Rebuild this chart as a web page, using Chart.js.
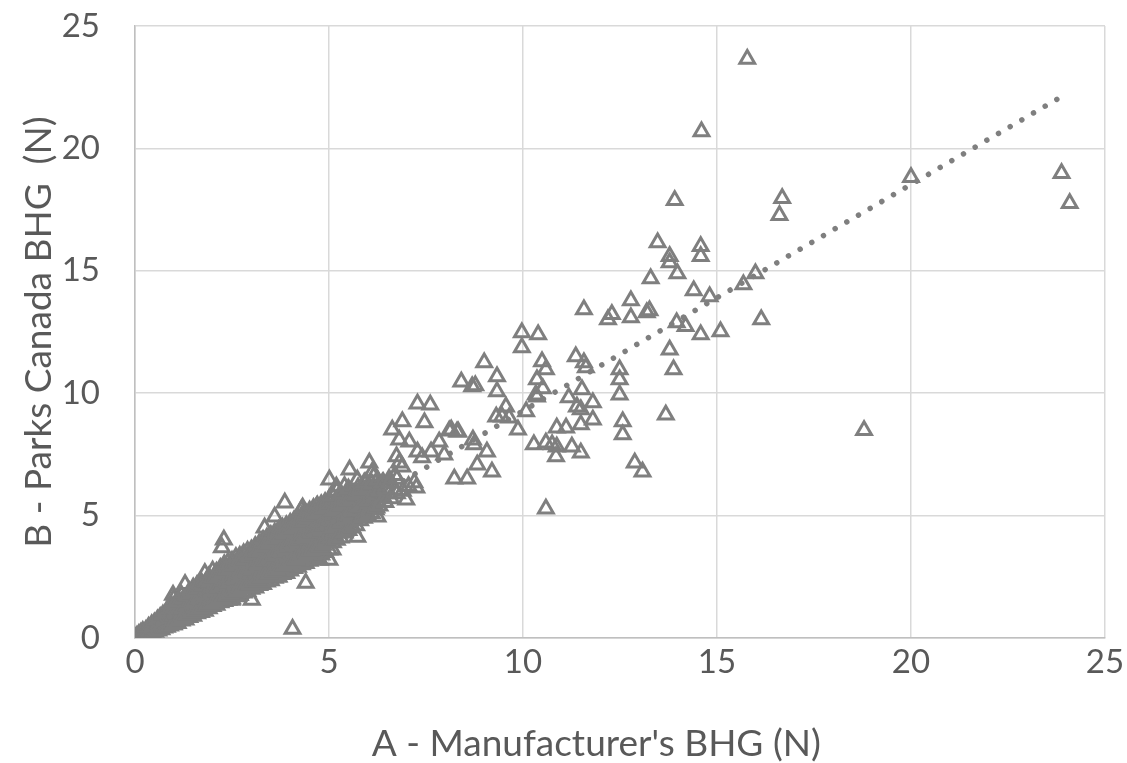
<!DOCTYPE html>
<html>
<head>
<meta charset="utf-8">
<script src="https://cdn.jsdelivr.net/npm/chart.js@4.4.1/dist/chart.umd.min.js"></script>
<style>
  html, body { margin: 0; padding: 0; background: #ffffff; }
  #bhgChart { display: block; }
</style>
</head>
<body>
<canvas id="bhgChart" width="1127" height="763"></canvas>
<script>
// [A - manufacturer, B - Parks Canada] pairs, in newtons
const nearOrigin = [
  [0.02,0.01],[0.05,0.08],[0.08,0.02],[0.1,0.15],[0.12,0.06],[0.15,0.2],[0.18,0.1],[0.2,0.28],
  [0.22,0.05],[0.25,0.18],[0.28,0.32],[0.3,0.12],[0.33,0.25],[0.35,0.45],[0.38,0.15],[0.4,0.3],
  [0.43,0.55],[0.45,0.2],[0.48,0.38],[0.5,0.62],[0.52,0.25],[0.55,0.45],[0.58,0.75],[0.6,0.3],
  [0.62,0.52],[0.65,0.85],[0.68,0.35],[0.7,0.6],[0.72,0.95],[0.75,0.42],[0.78,0.68],[0.8,1.05],
  [0.82,0.45],[0.85,0.78],[0.88,1.2],[0.9,0.5],[0.93,0.85],[0.95,1.3],[0.98,0.55],[0.98,1.76]
];

const lowBand = [
  [1.0,0.55],[1.0,0.9],[1.0,1.25],[1.0,1.6],
  [1.1,0.6],[1.1,1.0],[1.1,1.35],[1.1,1.55],
  [1.2,0.7],[1.2,1.05],[1.2,1.4],[1.2,1.75],
  [1.3,0.75],[1.3,1.15],[1.3,1.5],[1.29,2.2],
  [1.4,0.85],[1.4,1.2],[1.4,1.6],[1.4,1.9],
  [1.5,0.9],[1.5,1.3],[1.5,1.7],[1.5,2.05],
  [1.6,1.0],[1.6,1.4],[1.6,1.8],[1.6,2.15],
  [1.7,1.05],[1.7,1.5],[1.7,1.9],[1.7,2.3],
  [1.8,1.1],[1.8,1.55],[1.8,2.0],[1.8,2.65],
  [1.9,1.2],[1.9,1.65],[1.9,2.1],[1.9,2.5],
  [2.0,1.3],[2.0,1.75],[2.0,2.2],[2.0,2.75],
  [2.1,1.35],[2.1,1.8],[2.1,2.3],[2.1,2.7],
  [2.2,1.45],[2.2,1.9],[2.2,2.4],[2.2,2.85],
  [2.3,1.5],[2.3,2.0],[2.3,2.5],[2.3,3.0],[2.29,4.01],[2.24,3.7],
  [2.4,1.55],[2.4,2.05],[2.4,2.6],[2.4,3.1],
  [2.5,1.6],[2.5,2.15],[2.5,2.7],[2.5,3.15],[2.49,1.55],
  [2.6,1.7],[2.6,2.25],[2.6,2.8],[2.6,3.3],
  [2.7,1.75],[2.7,2.3],[2.7,2.85],[2.7,3.35],
  [2.8,1.85],[2.8,2.4],[2.8,2.95],[2.8,3.45],
  [2.9,1.9],[2.9,2.5],[2.9,3.05],[2.9,3.55],
  [3.0,2.0],[3.0,2.6],[3.0,3.15],[3.0,3.6],[3.01,1.55],
  [3.1,2.05],[3.1,2.7],[3.1,3.25],[3.1,3.75],
  [3.2,2.15],[3.2,2.8],[3.2,3.35],[3.2,3.85],
  [3.3,2.2],[3.3,2.85],[3.3,3.45],[3.3,4.0],[3.34,4.5],
  [3.4,2.3],[3.4,2.95],[3.4,3.55],[3.4,4.1],
  [3.5,2.35],[3.5,3.05],[3.5,3.65],[3.5,4.2],
  [3.6,2.45],[3.6,3.1],[3.6,3.75],[3.6,4.3],[3.6,4.95],[3.68,2.5],
  [3.7,2.5],[3.7,3.2],[3.7,3.85],[3.7,4.4],
  [3.8,2.6],[3.8,3.3],[3.8,3.95],[3.8,4.5],[3.86,5.52],
  [3.9,2.65],[3.9,3.4],[3.9,4.05],[3.9,4.6],
  [4.0,2.75],[4.0,3.5],[4.0,4.15],[4.0,4.7],[4.06,0.37],
  [4.1,2.85],[4.1,3.55],[4.1,4.25],[4.1,4.8],
  [4.2,2.9],[4.2,3.65],[4.2,4.35],[4.2,4.9],
  [4.3,3.0],[4.3,3.75],[4.3,4.45],[4.3,5.0],[4.29,5.24],[4.32,5.32],
  [4.4,3.05],[4.4,3.85],[4.4,4.55],[4.4,5.1],[4.4,2.25],
  [4.5,3.15],[4.5,3.9],[4.5,4.65],[4.5,5.2],
  [4.6,3.25],[4.6,4.0],[4.6,4.75],[4.6,5.3],[4.58,3.89],
  [4.7,3.3],[4.7,4.1],[4.7,4.85],[4.7,5.4],[4.68,5.36],[4.76,3.19],
  [4.8,3.4],[4.8,4.2],[4.8,4.95],[4.8,5.45],
  [4.9,3.5],[4.9,4.3],[4.9,5.05],[4.9,5.55],
  [5.0,3.6],[5.0,4.4],[5.0,5.15],[5.0,5.65],[5.01,3.19],[5.09,3.6]
];

// readings that sit between the rows above
const lowBandFill = [
  [1.05,0.72],[1.05,1.08],[1.05,1.42],[1.15,0.8],[1.15,1.18],[1.15,1.48],
  [1.25,0.88],[1.25,1.25],[1.25,1.6],[1.35,0.95],[1.35,1.32],[1.35,1.72],
  [1.45,1.02],[1.45,1.42],[1.45,1.8],[1.55,1.1],[1.55,1.5],[1.55,1.9],
  [1.65,1.18],[1.65,1.6],[1.65,2.0],[1.75,1.25],[1.75,1.7],[1.75,2.12],
  [1.85,1.32],[1.85,1.78],[1.85,2.3],[1.95,1.4],[1.95,1.88],[1.95,2.35],
  [2.05,1.5],[2.05,1.98],[2.05,2.45],[2.15,1.58],[2.15,2.05],[2.15,2.52],
  [2.25,1.65],[2.25,2.15],[2.25,2.65],[2.35,1.72],[2.35,2.25],[2.35,2.78],
  [2.45,1.8],[2.45,2.32],[2.45,2.85],[2.55,1.88],[2.55,2.42],[2.55,2.95],
  [2.65,1.95],[2.65,2.52],[2.65,3.05],[2.75,2.02],[2.75,2.6],[2.75,3.12],
  [2.85,2.1],[2.85,2.68],[2.85,3.2],[2.95,2.18],[2.95,2.78],[2.95,3.32],
  [3.05,2.3],[3.05,2.88],[3.05,3.4],[3.15,2.38],[3.15,2.98],[3.15,3.52],
  [3.25,2.45],[3.25,3.08],[3.25,3.62],[3.35,2.55],[3.35,3.15],[3.35,3.75],
  [3.45,2.62],[3.45,3.25],[3.45,3.85],[3.55,2.7],[3.55,3.35],[3.55,3.95],
  [3.65,2.78],[3.65,3.42],[3.65,4.05],[3.75,2.88],[3.75,3.52],[3.75,4.15],
  [3.85,2.95],[3.85,3.62],[3.85,4.25],[3.95,3.05],[3.95,3.72],[3.95,4.35],
  [4.05,3.12],[4.05,3.82],[4.05,4.45],[4.15,3.2],[4.15,3.9],[4.15,4.55],
  [4.25,3.3],[4.25,4.0],[4.25,4.65],[4.35,3.38],[4.35,4.1],[4.35,4.75],
  [4.45,3.45],[4.45,4.2],[4.45,4.88],[4.55,3.55],[4.55,4.3],[4.55,4.98],
  [4.65,3.62],[4.65,4.38],[4.65,5.08],[4.75,3.72],[4.75,4.48],[4.75,5.18],
  [4.85,3.8],[4.85,4.58],[4.85,5.28],[4.95,3.9],[4.95,4.68],[4.95,5.38],
  [5.05,4.1],[5.05,4.78],[5.05,5.48],[5.15,4.2],[5.15,4.88],[5.15,5.55],
  [5.25,4.3],[5.25,5.0],[5.25,5.65],[5.35,4.45],[5.35,5.1],[5.35,5.72],
  [5.45,4.6],[5.45,5.25],[5.45,5.85],[5.55,4.7],[5.55,5.35],[5.55,5.95],
  [5.65,4.85],[5.65,5.48],[5.75,4.95],[5.75,5.6],[5.75,6.15],[5.85,5.1],
  [5.85,5.7],[5.95,5.2],[5.95,5.82],[5.95,6.35],[6.05,5.35],[6.05,5.95],
  [6.15,5.45],[6.15,6.05],[6.15,6.6],[6.25,5.6],[6.25,6.2],[6.4,5.75],
  [6.4,6.35],[6.55,5.9],[6.55,6.5],[6.7,6.05],[6.7,6.65]
];

const midBand = [
  [5.1,3.9],[5.1,4.5],[5.1,5.2],[5.1,5.8],
  [5.2,4.0],[5.2,4.6],[5.2,5.3],[5.2,6.0],[5.19,6.18],
  [5.3,4.1],[5.3,4.7],[5.3,5.4],[5.3,5.9],
  [5.4,4.3],[5.4,4.85],[5.4,5.5],[5.4,6.2],
  [5.5,4.4],[5.5,5.0],[5.5,5.6],[5.5,6.1],[5.53,6.87],
  [5.6,4.5],[5.6,5.05],[5.6,5.7],
  [5.7,4.6],[5.7,5.2],[5.7,5.85],[5.73,6.46],[5.73,4.13],
  [5.8,4.8],[5.8,5.35],[5.8,5.95],
  [5.9,4.9],[5.9,5.5],[5.9,6.05],[5.91,6.34],
  [6.0,5.0],[6.0,5.6],[6.0,6.15],[6.04,7.16],[5.01,6.46],
  [6.1,5.1],[6.1,5.75],[6.1,6.3],[6.12,6.79],
  [6.2,5.25],[6.2,5.85],[6.22,5.32],[6.25,4.95],[6.25,6.46],
  [6.3,5.4],[6.3,6.0],[6.38,6.34],
  [6.45,5.55],[6.45,6.1],[6.56,6.34],
  [6.6,5.7],[6.63,8.51],[6.74,7.41],
  [6.75,5.9],[6.75,6.5],[6.81,7.16],[6.81,8.1],
  [6.9,6.0],[6.89,7.0],[6.89,8.84],[6.99,5.65],
  [7.05,6.2],[7.07,8.02],[7.2,6.35],[7.25,6.14],
  [7.28,9.57],[7.61,9.53],[7.46,8.8],[8.1,8.47],[8.33,8.43],[7.84,8.02],
  [7.63,7.61],[7.97,7.49],[7.28,7.61],[7.4,7.37]
];

const upperRange = [
  [8.41,10.47],[8.69,10.27],[8.77,10.31],[9.0,11.25],[9.33,10.68],[9.33,10.07],
  [8.3,8.43],[8.15,8.51],[8.71,8.1],[8.74,7.9],[9.07,7.61],[8.82,7.08],[9.2,6.79],
  [8.23,6.51],[8.56,6.51],[9.56,9.45],[9.31,9.04],[9.46,9.04],[9.64,9.0],[9.87,8.51],
  [9.97,12.48],[10.39,12.4],[9.97,11.87],[10.49,11.29],[10.59,10.97],[10.36,10.56],
  [10.51,10.19],[10.36,9.86],[10.33,9.94],[10.08,9.25],[10.87,8.59],[11.11,8.59],
  [10.28,7.9],[10.59,7.98],[10.75,7.9],[10.87,7.81],[10.85,7.41],[11.26,7.81],
  [11.49,7.57],[10.59,5.28],[11.36,11.5],[11.57,11.25],[11.62,11.05],[11.52,10.15],
  [11.18,9.82],[11.39,9.45],[11.49,9.33],[11.8,9.62],[11.8,8.92],[11.49,8.72],
  [11.57,13.42],[12.19,13.01],[12.29,13.22],[12.78,13.79],[12.78,13.09],[13.19,13.3],
  [13.26,13.38],[12.49,10.97],[12.49,10.56],[12.49,9.94],[12.57,8.84],[12.57,8.31],
  [12.88,7.16],[13.08,6.79],[13.68,9.12],[13.78,11.78],[13.88,10.97],[13.96,12.89],
  [14.19,12.73],[14.58,12.4],[15.09,12.52],[13.29,14.69],[13.98,14.89],[14.4,14.2],
  [14.81,13.95],[15.68,14.44],[15.99,14.89],[16.14,13.01],[13.47,16.16],[14.58,16.0],
  [14.58,15.59],[13.78,15.59],[13.78,15.34],[13.91,17.88],[14.6,20.69],[15.78,23.65],
  [16.68,17.96],[16.61,17.27],[20.0,18.82],[23.88,18.98],[24.09,17.76],[18.79,8.49]
];

// linear trend line end points
const trendA = [0, 23.95];
const trendB = [0.03, 22.18];

const majorTicks = [0, 5, 10, 15, 20, 25];

const toPoints = (pairs) => pairs.map(([a, b]) => ({ x: a, y: b }));
const allPairs = nearOrigin.concat(lowBand, lowBandFill, midBand, upperRange);

const grey = "#7f7f7f";
const textGrey = "#595959";
const tickFont = { family: "Lato", size: 33 };

const gridColor = (ctx) =>
  ctx.tick && majorTicks.includes(ctx.tick.value) ? "#d9d9d9" : "#f0f0f0";
const tickLabel = (v) => (majorTicks.includes(v) ? v : null);

var ctx = document.getElementById("bhgChart").getContext("2d");
var bhgChart = new Chart(ctx, {
  type: "scatter",
  data: {
    datasets: [
      {
        type: "line",
        data: trendA.map((a, i) => ({ x: a, y: trendB[i] })),
        borderColor: grey,
        borderWidth: 5.5,
        borderDash: [0.01, 13.5],
        borderCapStyle: "round",
        pointRadius: 0,
        fill: false,
      },
      {
        data: toPoints(allPairs),
        pointStyle: "triangle",
        pointRadius: 8.5,
        pointBorderWidth: 3,
        borderColor: grey,
        backgroundColor: "rgba(0,0,0,0)",
      },
    ],
  },
  options: {
    responsive: false,
    animation: false,
    events: [],
    layout: { padding: { top: 26, right: 22, left: 0, bottom: 0 } },
    plugins: {
      legend: { display: false },
      tooltip: { enabled: false },
    },
    scales: {
      x: {
        type: "linear",
        min: 0,
        max: 25,
        afterFit: (scale) => {
          scale.height = 125;
          scale.paddingLeft = 0;
          scale.paddingRight = 0;
        },
        grid: { color: gridColor, lineWidth: 1.5, drawTicks: false },
        border: { color: "#bfbfbf", width: 1.5 },
        ticks: {
          stepSize: 1,
          autoSkip: false,
          maxRotation: 0,
          padding: 5,
          color: textGrey,
          font: tickFont,
          callback: tickLabel,
        },
        title: {
          display: true,
          // trailing spaces pull the centred title a little to the left
          text: "A - Manufacturer's BHG (N)     ",
          color: textGrey,
          font: { family: "Lato", size: 37, lineHeight: 1 },
          padding: { top: 0, bottom: 0 },
        },
      },
      y: {
        type: "linear",
        min: 0,
        max: 25,
        afterFit: (scale) => {
          scale.width = 135;
          scale.paddingTop = 0;
          scale.paddingBottom = 0;
        },
        grid: { color: gridColor, lineWidth: 1.5, drawTicks: false },
        border: { color: "#bfbfbf", width: 1.5 },
        ticks: {
          stepSize: 1,
          autoSkip: false,
          padding: 35,
          color: textGrey,
          font: tickFont,
          callback: tickLabel,
        },
        title: {
          display: true,
          text: "B - Parks Canada BHG  (N)",
          color: textGrey,
          font: { family: "Lato", size: 37, lineHeight: 1 },
          padding: { top: 21, bottom: 0 },
        },
      },
    },
  },
});
</script>
</body>
</html>
